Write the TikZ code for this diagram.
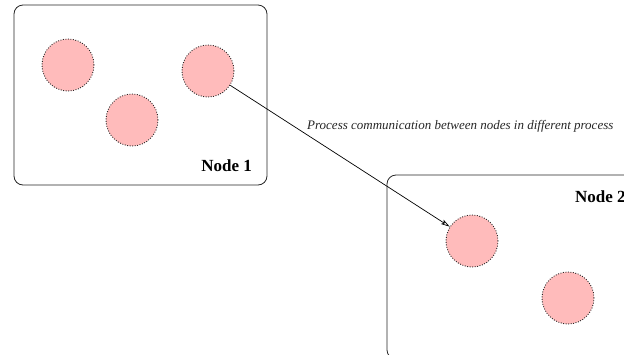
\documentclass[tikz,border=0pt]{standalone}
\usepackage{fontspec}
\setmainfont{Liberation Serif}
\usetikzlibrary{arrows.meta}
\definecolor{procfill}{RGB}{255,187,187}
\definecolor{procline}{RGB}{40,40,40}
\tikzset{
  hostbox/.style={draw=black!85, line width=0.8pt, rounded corners=9pt},
  proc/.style={circle, minimum size=52pt, inner sep=0pt, fill=procfill,
    draw=procline, line width=0.9pt, dash pattern=on 0.9pt off 1.6pt},
  hostlabel/.style={font=\fontsize{17}{20}\selectfont\bfseries, inner sep=0pt},
  msg/.style={draw=black, line width=0.7pt, -{Stealth[open, length=9pt, width=5pt, inset=2pt]}},
  msglabel/.style={font=\fontsize{13}{15}\selectfont\itshape, inner sep=0pt, text=black!85}
}
\begin{document}
\begin{tikzpicture}[x=1pt, y=-1pt]
  \useasboundingbox (0,0) rectangle (624,354);
  % first host
  \draw[hostbox] (14,5) rectangle (267,185);
  \node[hostlabel, anchor=base east] (n1) at (252,171) {Node 1};
  \node[proc] (p1) at (68,65) {};
  \node[proc] (p2) at (132,120) {};
  \node[proc] (p3) at (208,71) {};
  % second host, running off the page
  \begin{scope}
    \clip (0,0) rectangle (624,354);
    \draw[hostbox] (387,175) rectangle (700,359);
    \node[hostlabel, anchor=base west] (n2) at (575,202) {Node 2};
  \end{scope}
  \node[proc] (p4) at (472,241) {};
  \node[proc] (p5) at (568,298) {};
  % message between the hosts
  \draw[msg] (p3) -- (p4);
  \node[msglabel, anchor=base west] (ml) at (307,129) {Process communication between nodes in different process};
\end{tikzpicture}
\end{document}
